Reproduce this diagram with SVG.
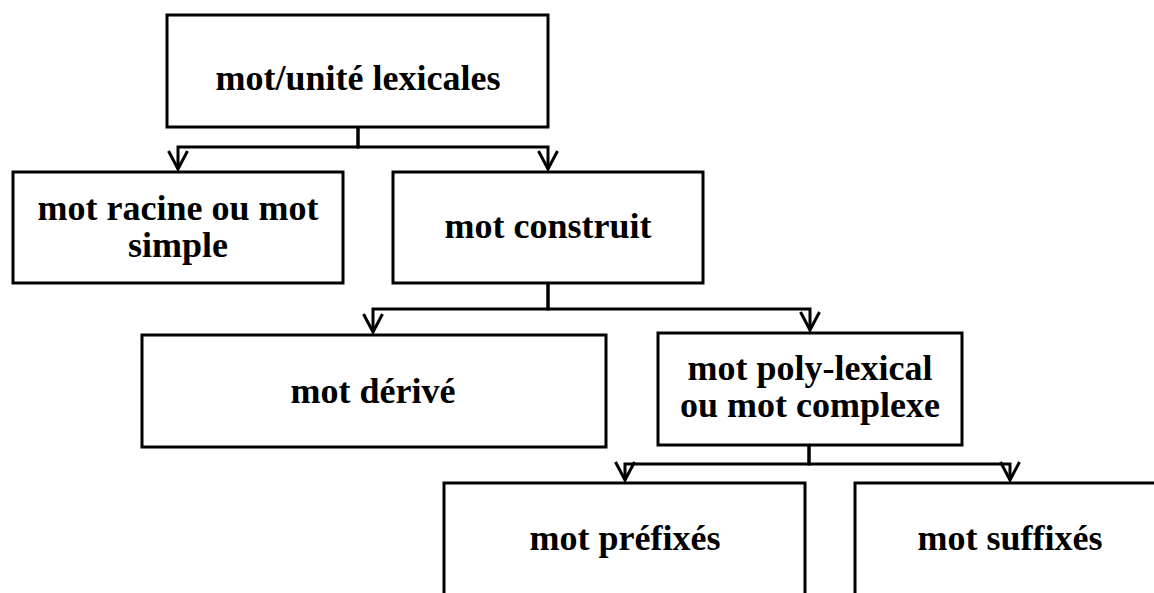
<svg xmlns="http://www.w3.org/2000/svg" width="1154" height="593" viewBox="0 0 1154 593">
  <style>
    .box { fill: #ffffff; stroke: #000000; stroke-width: 3; }
    .lbl { font-family: "Liberation Serif", "Times New Roman", serif; font-weight: bold; font-size: 36px; fill: #000000; text-anchor: middle; }
    .wire { fill: none; stroke: #000000; stroke-width: 3; marker-end: url(#vee); }
  </style>
  <defs>
    <!-- open V arrowhead, drawn pointing along +x -->
    <marker id="vee" viewBox="-20 -12 23 24" refX="0" refY="0" markerWidth="23" markerHeight="24" markerUnits="userSpaceOnUse" orient="auto">
      <polyline points="-18,-9.5 0,0 -18,9.5" fill="none" stroke="#000000" stroke-width="3"/>
    </marker>
  </defs>

  <rect width="1154" height="593" fill="#ffffff"/>

  <!-- connectors -->
  <g id="connectors">
    <path class="wire" d="M358,127 V147 H178 V169"/>
    <path class="wire" d="M358,127 V147 H548 V169"/>
    <path class="wire" d="M548,283 V309 H373 V332"/>
    <path class="wire" d="M548,283 V309 H810 V330"/>
    <path class="wire" d="M809,445 V464 H625 V480"/>
    <path class="wire" d="M809,445 V464 H1010 V480"/>
  </g>

  <g id="node-mot-unite">
    <rect class="box" x="167" y="15" width="381" height="112"/>
    <text class="lbl" x="358" y="90">mot/unité lexicales</text>
  </g>

  <g id="node-mot-racine">
    <rect class="box" x="13" y="172" width="330" height="111"/>
    <text class="lbl" x="178" y="220">mot racine ou mot</text>
    <text class="lbl" x="178" y="257">simple</text>
  </g>

  <g id="node-mot-construit">
    <rect class="box" x="393" y="172" width="310" height="111"/>
    <text class="lbl" x="548" y="238">mot construit</text>
  </g>

  <g id="node-mot-derive">
    <rect class="box" x="142" y="335" width="464" height="112"/>
    <text class="lbl" x="373" y="403">mot dérivé</text>
  </g>

  <g id="node-mot-poly">
    <rect class="box" x="658" y="333" width="304" height="112"/>
    <text class="lbl" x="810" y="380">mot poly-lexical</text>
    <text class="lbl" x="810" y="417">ou mot complexe</text>
  </g>

  <g id="node-mot-prefixes">
    <rect class="box" x="444" y="483" width="361" height="130"/>
    <text class="lbl" x="625" y="550">mot préfixés</text>
  </g>

  <g id="node-mot-suffixes">
    <rect class="box" x="855" y="483" width="310" height="130"/>
    <text class="lbl" x="1010" y="550">mot suffixés</text>
  </g>
</svg>
